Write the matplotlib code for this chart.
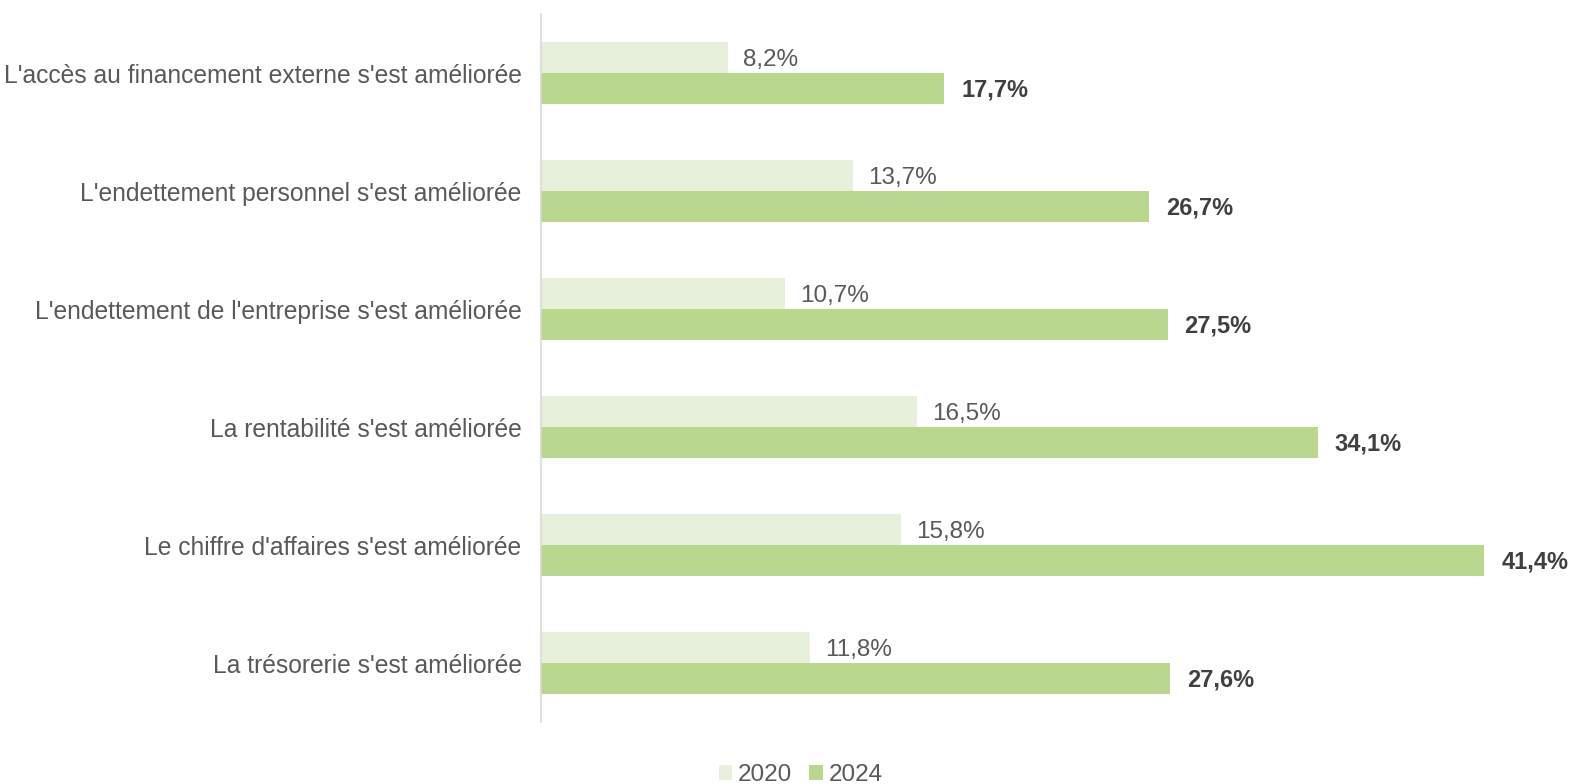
import matplotlib.pyplot as plt
import numpy as np

plt.rcParams["font.family"] = ["Liberation Sans", "DejaVu Sans"]

categories = [
    "L'accès au financement externe s'est améliorée",
    "L'endettement personnel s'est améliorée",
    "L'endettement de l'entreprise s'est améliorée",
    "La rentabilité s'est améliorée",
    "Le chiffre d'affaires s'est améliorée",
    "La trésorerie s'est améliorée",
]
values_2020 = [8.2, 13.7, 10.7, 16.5, 15.8, 11.8]
values_2024 = [17.7, 26.7, 27.5, 34.1, 41.4, 27.6]

fig = plt.figure(figsize=(15.7, 7.84), dpi=100)
ax = fig.add_axes([0.3446, 0.079, 0.651, 0.903])

y = np.arange(len(categories))
h = 0.265
b1 = ax.barh(y - h / 2, values_2020, height=h, color="#E6F0DA", label="2020")
b2 = ax.barh(y + h / 2, values_2024, height=h, color="#B9D88D", label="2024")

fs = 17.5
for rect, v in zip(b1, values_2020):
    ax.annotate(f"{v:.1f}%".replace(".", ","), (rect.get_width(), rect.get_y() + rect.get_height() / 2),
                xytext=(11, -2), textcoords="offset points", va="center", ha="left",
                fontsize=fs, color="#595959")
for rect, v in zip(b2, values_2024):
    ax.annotate(f"{v:.1f}%".replace(".", ","), (rect.get_width(), rect.get_y() + rect.get_height() / 2),
                xytext=(12, -1), textcoords="offset points", va="center", ha="left",
                fontsize=17, color="#404040", fontweight="bold")

ax.set_ylim(len(categories) - 0.5, -0.5)
ax.set_xlim(0, 44.85)
ax.set_yticks(y)
ax.set_yticklabels(categories, fontsize=17.7, color="#595959")
ax.set_xticks([])
ax.tick_params(axis="y", length=0, pad=14)
for s in ["top", "right", "bottom"]:
    ax.spines[s].set_visible(False)
ax.spines["left"].set_color("#D9D9D9")
ax.spines["left"].set_linewidth(1.2)

fig.legend(handles=[b1, b2], loc="center", bbox_to_anchor=(0.51, 0.011), ncol=2, frameon=False,
           fontsize=fs, labelcolor="#595959", handlelength=0.55, handleheight=0.55,
           handletextpad=0.25, columnspacing=0.7)

plt.savefig("out.png", dpi=100)
